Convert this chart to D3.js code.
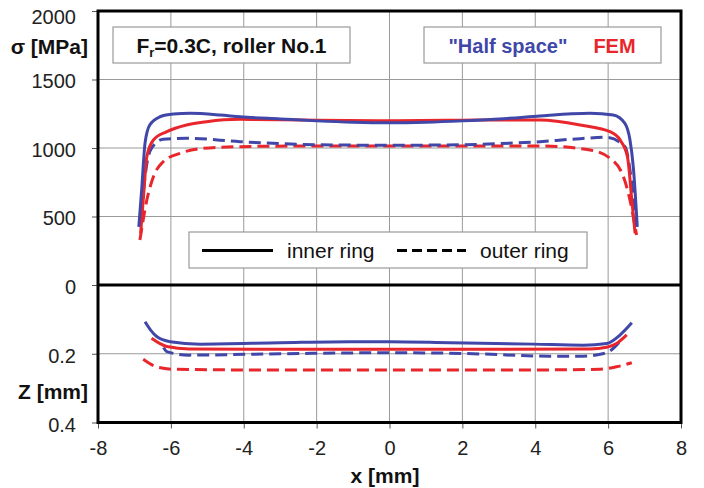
<!DOCTYPE html>
<html>
<head>
<meta charset="utf-8">
<script src="https://cdn.jsdelivr.net/npm/d3@7"></script>
<style>
  html, body { margin: 0; padding: 0; background: #fff; }
  svg { display: block; font-family: "Liberation Sans", Arial, sans-serif; }
</style>
</head>
<body>
<svg id="chart" width="704" height="488"></svg>
<script>
// ---- Contact stress sigma [MPa] along the roller, x [mm] ----
const xHalfInnerSigma = [-6.88, -6.8, -6.71, -6.58, -6.3, -5.93, -5.47, -4.65, -4.1, -3, -2, -1, 0, 1, 2, 3, 4.13, 5, 5.5, 6.14, 6.46, 6.6, 6.69, 6.8];
const halfInnerSigma  = [425, 700, 1034, 1168, 1228, 1248, 1253, 1241, 1228, 1212, 1198, 1188, 1184, 1188, 1198, 1212, 1234, 1250, 1254, 1241, 1180, 1058, 864, 425];

const xFemInnerSigma = [-6.83, -6.75, -6.66, -6.48, -6.11, -5.57, -5.02, -4.1, -3, -2, 0, 2, 3, 4.13, 5.23, 6.05, 6.33, 6.53, 6.65, 6.74];
const femInnerSigma  = [377, 650, 937, 1058, 1119, 1168, 1192, 1209, 1207, 1203, 1199, 1203, 1205, 1204, 1168, 1119, 1058, 937, 620, 377];

const xHalfOuterSigma = [-6.85, -6.78, -6.65, -6.53, -6.21, -5.57, -4.1, -3, -2, 0, 2, 3, 4.13, 5, 5.96, 6.46, 6.65, 6.78];
const halfOuterSigma  = [430, 620, 900, 998, 1064, 1071, 1046, 1032, 1024, 1020, 1024, 1032, 1046, 1064, 1078, 1010, 742, 425];

const xFemOuterSigma = [-6.85, -6.66, -6.48, -6.21, -5.75, -5.11, -4.1, -2, 0, 2, 4.13, 5.5, 6.05, 6.42, 6.6, 6.78];
const femOuterSigma  = [328, 620, 790, 900, 961, 998, 1010, 1015, 1015, 1015, 1015, 985, 925, 790, 620, 365];

// ---- Depth Z [mm] of the maximum equivalent stress ----
const xHalfInnerZ = [-6.71, -6.55, -6.39, -6.02, -5.2, -3, -1.08, 0, 1.66, 3.95, 5.32, 5.96, 6.33, 6.65];
const halfInnerZ  = [0.107, 0.132, 0.150, 0.165, 0.172, 0.168, 0.165, 0.165, 0.168, 0.172, 0.175, 0.170, 0.145, 0.110];

const xFemInnerZ = [-6.53, -6.11, -5.5, -3, 0, 3, 5.5, 5.96, 6.23, 6.51];
const femInnerZ  = [0.155, 0.179, 0.186, 0.187, 0.187, 0.187, 0.186, 0.181, 0.170, 0.145];

const xHalfOuterZ = [-6.2, -6.11, -5.5, -3, 0, 2, 4.4, 5.3, 5.96, 6.23, 6.35];
const halfOuterZ  = [0.182, 0.194, 0.204, 0.200, 0.197, 0.199, 0.207, 0.207, 0.197, 0.175, 0.160];

const xFemOuterZ = [-6.76, -6.39, -5.93, -4, 0, 4, 5.78, 6.23, 6.65];
const femOuterZ  = [0.216, 0.238, 0.245, 0.247, 0.247, 0.247, 0.245, 0.238, 0.226];

// ---- Ticks and labels ----
const xTicks = [-8, -6, -4, -2, 0, 2, 4, 6, 8];
const sigmaTicks = [0, 500, 1000, 1500, 2000];
const zTicks = [0.2, 0.4];
const titleText = "roller No.1";
const legendSeries = ["inner ring", "outer ring"];
const methodNames = ["\"Half space\"", "FEM"];

const BLUE = "#4047a8";
const RED = "#e8262c";

const svg = d3.select("#chart");

const x = d3.scaleLinear().domain([-8, 8]).range([98, 681]);
const ySig = d3.scaleLinear().domain([0, 2000]).range([285, 11]);
const yZ = d3.scaleLinear().domain([0, 0.4]).range([285, 422.5]);

const pLeft = x(-8), pRight = x(8), pTop = ySig(2000), pBottom = yZ(0.4), pZero = ySig(0);

// grid
const grid = svg.append("g").attr("stroke", "#9a9a9a").attr("stroke-width", 1);
xTicks.slice(1, -1).forEach(v => {
  grid.append("line").attr("x1", x(v)).attr("x2", x(v)).attr("y1", pTop).attr("y2", pBottom);
});
[500, 1000, 1500].forEach(v => {
  grid.append("line").attr("x1", pLeft).attr("x2", pRight).attr("y1", ySig(v)).attr("y2", ySig(v));
});
zTicks.slice(0, -1).forEach(v => {
  grid.append("line").attr("x1", pLeft).attr("x2", pRight).attr("y1", yZ(v)).attr("y2", yZ(v));
});

// axes
const fontTick = "20px";
const axSig = svg.append("g").attr("transform", `translate(${pLeft},0)`)
  .call(d3.axisLeft(ySig).tickValues(sigmaTicks).tickSize(6).tickPadding(16).tickFormat(d3.format("d")));
const axZ = svg.append("g").attr("transform", `translate(${pLeft},0)`)
  .call(d3.axisLeft(yZ).tickValues(zTicks).tickSize(6).tickPadding(16).tickFormat(d3.format(".1f")));
const axX = svg.append("g").attr("transform", `translate(0,${pBottom})`)
  .call(d3.axisBottom(x).tickValues(xTicks).tickSize(6).tickPadding(12).tickFormat(d3.format("d")));
[axSig, axZ, axX].forEach(a => {
  a.select(".domain").remove();
  a.selectAll(".tick line").attr("stroke", "#555").attr("stroke-width", 1);
  a.selectAll(".tick text").attr("font-size", fontTick).attr("font-family", "Liberation Sans, Arial, sans-serif").attr("fill", "#222");
});
axSig.selectAll(".tick text").attr("dy", d => d === 2000 ? "0.6em" : "0.42em");
axZ.selectAll(".tick text").attr("dy", "0.45em");
axX.selectAll(".tick text").text(d => d < 0 ? "-" + Math.abs(d) : d);

// curves
const line = (xs, ys, yScale) => d3.line()
  .x((d, i) => x(xs[i]))
  .y(d => yScale(d))
  .curve(d3.curveMonotoneX)(ys);

const curves = [
  { xs: xFemOuterSigma, ys: femOuterSigma, s: ySig, c: RED, dash: true },
  { xs: xHalfOuterSigma, ys: halfOuterSigma, s: ySig, c: BLUE, dash: true },
  { xs: xFemInnerSigma, ys: femInnerSigma, s: ySig, c: RED, dash: false },
  { xs: xHalfInnerSigma, ys: halfInnerSigma, s: ySig, c: BLUE, dash: false },
  { xs: xFemOuterZ, ys: femOuterZ, s: yZ, c: RED, dash: true },
  { xs: xHalfOuterZ, ys: halfOuterZ, s: yZ, c: BLUE, dash: true },
  { xs: xFemInnerZ, ys: femInnerZ, s: yZ, c: RED, dash: false },
  { xs: xHalfInnerZ, ys: halfInnerZ, s: yZ, c: BLUE, dash: false }
];
svg.append("g").selectAll("path").data(curves).join("path")
  .attr("d", d => line(d.xs, d.ys, d.s))
  .attr("fill", "none")
  .attr("stroke", d => d.c)
  .attr("stroke-width", 3)
  .attr("stroke-linejoin", "round")
  .attr("stroke-dasharray", d => d.dash ? "12,6" : null);

// frame and zero line
svg.append("rect").attr("x", pLeft).attr("y", pTop).attr("width", pRight - pLeft).attr("height", pBottom - pTop)
  .attr("fill", "none").attr("stroke", "#000").attr("stroke-width", 3);
svg.append("line").attr("x1", pLeft).attr("x2", pRight).attr("y1", pZero).attr("y2", pZero)
  .attr("stroke", "#000").attr("stroke-width", 3);

// annotation boxes
function box(x0, y0, w, h) {
  svg.append("rect").attr("x", x0).attr("y", y0).attr("width", w).attr("height", h)
    .attr("fill", "#fff").attr("stroke", "#9a9a9a").attr("stroke-width", 1.2);
}
box(113, 27, 237, 36);
const t1 = svg.append("text").attr("x", 231.5).attr("y", 53).attr("text-anchor", "middle")
  .attr("font-size", "21px").attr("font-weight", "bold").attr("fill", "#111");
t1.append("tspan").text("F");
t1.append("tspan").attr("font-size", "13px").attr("dy", "4").text("r");
t1.append("tspan").attr("dy", "-4").text("=0.3C, " + titleText);

box(424, 27, 237, 36);
const t2 = svg.append("text").attr("x", 542).attr("y", 53).attr("text-anchor", "middle")
  .attr("font-size", "20px").attr("font-weight", "bold");
t2.append("tspan").attr("fill", BLUE).text(methodNames[0]);
t2.append("tspan").attr("fill", RED).attr("dx", "26").text(methodNames[1]);

// line-style legend
box(189, 232, 398, 36);
const lg = svg.append("g");
lg.append("line").attr("x1", 202).attr("x2", 273).attr("y1", 250.5).attr("y2", 250.5)
  .attr("stroke", "#000").attr("stroke-width", 3);
lg.append("text").attr("x", 287).attr("y", 257.5).attr("font-size", "21px").attr("fill", "#111").text(legendSeries[0]);
lg.append("line").attr("x1", 397).attr("x2", 466).attr("y1", 250.5).attr("y2", 250.5)
  .attr("stroke", "#000").attr("stroke-width", 3).attr("stroke-dasharray", "10,5");
lg.append("text").attr("x", 480).attr("y", 257.5).attr("font-size", "21px").attr("fill", "#111").text(legendSeries[1]);

// axis titles
svg.append("text").attr("x", 88).attr("y", 54).attr("text-anchor", "end")
  .attr("font-size", "21px").attr("font-weight", "bold").attr("fill", "#111").text("σ [MPa]");
svg.append("text").attr("x", 88).attr("y", 399).attr("text-anchor", "end")
  .attr("font-size", "21px").attr("font-weight", "bold").attr("fill", "#111").text("Z [mm]");
svg.append("text").attr("x", 385).attr("y", 483).attr("text-anchor", "middle")
  .attr("font-size", "21px").attr("font-weight", "bold").attr("fill", "#111").text("x [mm]");
</script>
</body>
</html>
